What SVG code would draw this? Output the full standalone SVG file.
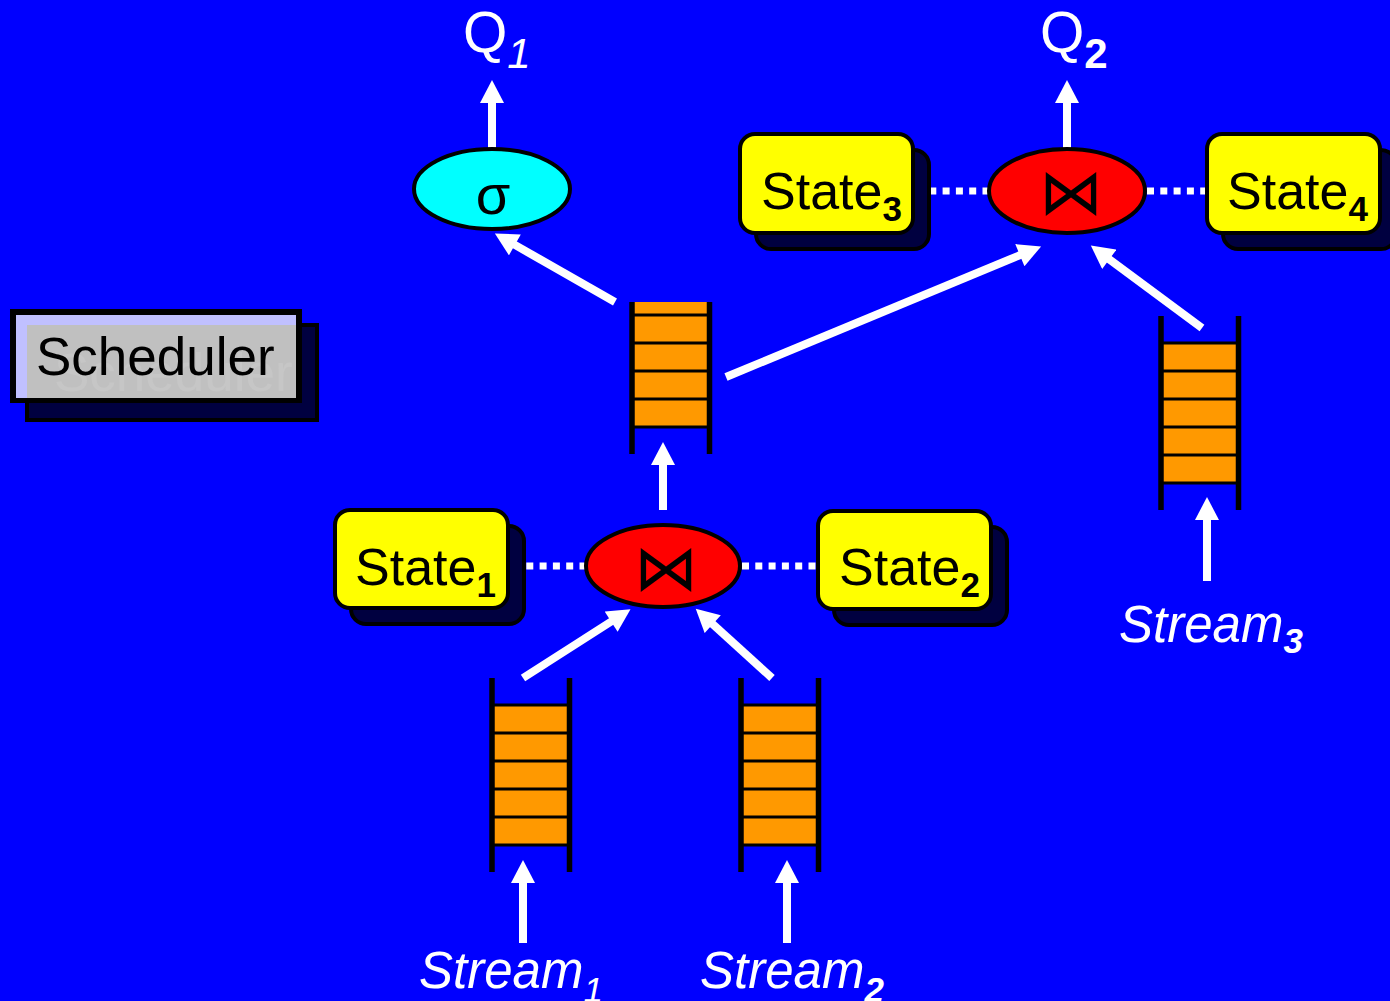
<svg xmlns="http://www.w3.org/2000/svg" width="1390" height="1001" viewBox="0 0 1390 1001">
<style>
.lbl{font-family:"Liberation Sans",Arial,sans-serif;font-size:52px;fill:#000}
.sub{font-size:35px;font-weight:bold}
.wlbl{font-family:"Liberation Sans",Arial,sans-serif;font-size:51px;fill:#fff;font-style:italic}
.qlbl{font-family:"Liberation Sans",Arial,sans-serif;font-size:57px;fill:#fff}
.state{fill:#ffff00;stroke:#000;stroke-width:4}
.shadow{fill:#000040;stroke:#000;stroke-width:4}
.join{fill:#ff0000;stroke:#000;stroke-width:4}
.arrow{stroke:#fff;stroke-width:8;fill:none;marker-end:url(#ah)}
.dots{stroke:#fff;stroke-width:7;stroke-dasharray:7 6.3;fill:none}
.post{stroke:#000;stroke-width:5.5}
.cell{stroke:#000;stroke-width:3}
.orange{fill:#ff9900}
.bow{font-family:"DejaVu Sans",sans-serif;font-size:64px;fill:#000;text-anchor:middle}
</style>
<defs>
<marker id="ah" markerUnits="userSpaceOnUse" markerWidth="24" markerHeight="24" viewBox="0 0 23 24" refX="1" refY="12" orient="auto">
<path d="M0,0 L23,12 L0,24 z" fill="#fff"/>
</marker>
<g id="queue">
<rect class="orange" x="2" y="27" width="73.5" height="140"/>
<line class="cell" x1="0" y1="27" x2="77.5" y2="27"/>
<line class="cell" x1="0" y1="55" x2="77.5" y2="55"/>
<line class="cell" x1="0" y1="83" x2="77.5" y2="83"/>
<line class="cell" x1="0" y1="111" x2="77.5" y2="111"/>
<line class="cell" x1="0" y1="139" x2="77.5" y2="139"/>
<line class="cell" x1="0" y1="167" x2="77.5" y2="167"/>
<line class="post" x1="0" y1="0" x2="0" y2="194"/>
<line class="post" x1="77.5" y1="0" x2="77.5" y2="194"/>
</g>
</defs>
<rect x="0" y="0" width="1390" height="1001" fill="#0000ff"/>

<g id="connectors">
<line class="dots" x1="513" y1="566" x2="585" y2="566"/>
<line class="dots" x1="742" y1="566" x2="818" y2="566"/>
<line class="dots" x1="916" y1="191" x2="989" y2="191"/>
<line class="dots" x1="1147" y1="191" x2="1207" y2="191"/>
<line class="arrow" x1="492" y1="148" x2="492" y2="102"/>
<line class="arrow" x1="1067" y1="149" x2="1067" y2="102"/>
<line class="arrow" x1="663" y1="510" x2="663" y2="464"/>
<line class="arrow" x1="523" y1="943" x2="523" y2="882"/>
<line class="arrow" x1="787" y1="943" x2="787" y2="882"/>
<line class="arrow" x1="1207" y1="581" x2="1207" y2="519"/>
<line class="arrow" x1="523" y1="678" x2="612" y2="621"/>
<line class="arrow" x1="772" y1="678" x2="712" y2="623.5"/>
<line class="arrow" x1="615" y1="302" x2="514" y2="244.4"/>
<line class="arrow" x1="726" y1="377" x2="1020.8" y2="254.8"/>
<line class="arrow" x1="1202" y1="328" x2="1108.5" y2="258.7"/>
</g>

<g id="scheduler">
<rect x="27" y="325" width="290" height="95" fill="#000040" stroke="#000" stroke-width="4"/>
<rect x="10" y="309" width="292" height="94" fill="#000"/>
<rect x="16" y="315" width="280" height="83" fill="#c0c0ff"/>
<rect x="27" y="325" width="269" height="73" fill="#c0c0c0"/>
<text class="lbl" x="54" y="391" style="fill:#c6c6c6;font-size:53px">Scheduler</text>
<text class="lbl" x="36" y="375" style="font-size:53px">Scheduler</text>
</g>

<g id="q1">
<text class="qlbl" x="463" y="52">Q<tspan font-size="42" font-style="italic" dy="16">1</tspan></text>
</g>
<g id="q2">
<text class="qlbl" x="1040" y="52">Q<tspan font-size="42" font-weight="bold" dy="16">2</tspan></text>
</g>

<g id="select">
<ellipse cx="492" cy="189" rx="78" ry="40" fill="#00ffff" stroke="#000" stroke-width="4"/>
<text x="493" y="214" font-family="Liberation Sans,Arial,sans-serif" font-size="56" text-anchor="middle" fill="#000">σ</text>
</g>

<g id="join1">
<ellipse class="join" cx="663" cy="566" rx="77" ry="41"/>
<text class="bow" x="666" y="590">⋈</text>
</g>

<g id="join2">
<ellipse class="join" cx="1067" cy="191" rx="78" ry="42"/>
<text class="bow" x="1071" y="214">⋈</text>
</g>

<g id="state1">
<rect class="shadow" x="351" y="526" width="173" height="98" rx="15"/>
<rect class="state" x="335" y="510" width="173" height="98" rx="15"/>
<text class="lbl" x="355" y="585">State<tspan class="sub" dy="12">1</tspan></text>
</g>
<g id="state2">
<rect class="shadow" x="834" y="527" width="173" height="98" rx="15"/>
<rect class="state" x="818" y="511" width="173" height="98" rx="15"/>
<text class="lbl" x="839" y="585">State<tspan class="sub" dy="12">2</tspan></text>
</g>
<g id="state3">
<rect class="shadow" x="756" y="150" width="173" height="99" rx="15"/>
<rect class="state" x="740" y="134" width="173" height="99" rx="15"/>
<text class="lbl" x="761" y="209">State<tspan class="sub" dy="12">3</tspan></text>
</g>
<g id="state4">
<rect class="shadow" x="1223" y="150" width="173" height="99" rx="15"/>
<rect class="state" x="1207" y="134" width="173" height="99" rx="15"/>
<text class="lbl" x="1227" y="209">State<tspan class="sub" dy="12">4</tspan></text>
</g>

<g id="queue-mid">
<rect class="orange" x="634" y="302" width="73.5" height="125"/>
<line class="cell" x1="632" y1="315" x2="709.5" y2="315"/>
<line class="cell" x1="632" y1="343" x2="709.5" y2="343"/>
<line class="cell" x1="632" y1="371" x2="709.5" y2="371"/>
<line class="cell" x1="632" y1="399" x2="709.5" y2="399"/>
<line class="cell" x1="632" y1="427" x2="709.5" y2="427"/>
<line class="post" x1="632" y1="302" x2="632" y2="454"/>
<line class="post" x1="709.5" y1="302" x2="709.5" y2="454"/>
</g>
<g id="queue-s1"><use href="#queue" x="492" y="678"/></g>
<g id="queue-s2"><use href="#queue" x="741" y="678"/></g>
<g id="queue-s3"><use href="#queue" x="1161" y="316"/></g>

<g id="stream1">
<text class="wlbl" x="419" y="988">Stream<tspan font-size="35" dy="14">1</tspan></text>
</g>
<g id="stream2">
<text class="wlbl" x="700" y="988">Stream<tspan font-size="35" font-weight="bold" dy="14">2</tspan></text>
</g>
<g id="stream3">
<text class="wlbl" x="1119" y="642">Stream<tspan font-size="35" font-weight="bold" dy="11">3</tspan></text>
</g>
</svg>
